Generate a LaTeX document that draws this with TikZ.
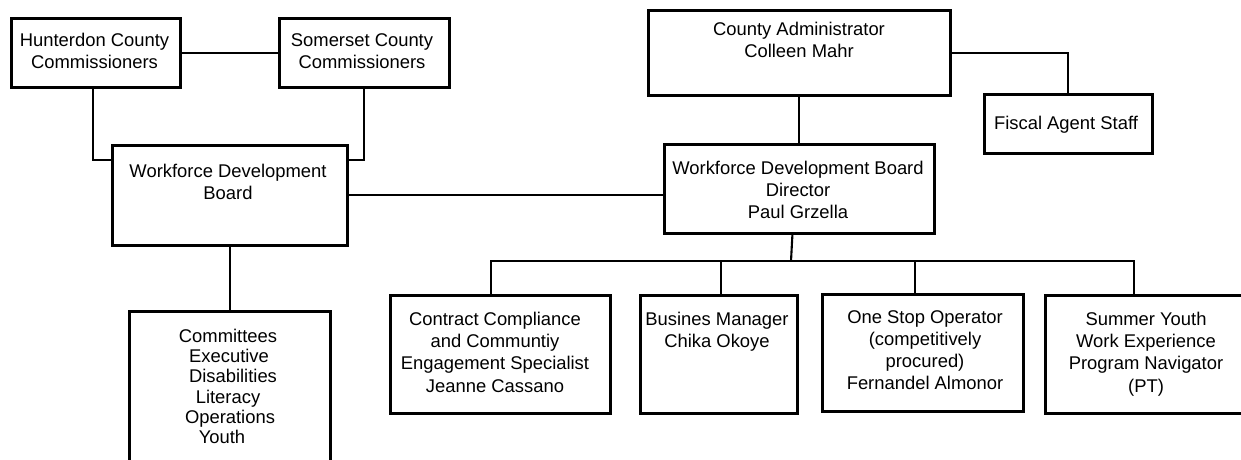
\documentclass[tikz,border=0pt]{standalone}
\usepackage{fontspec}
\setmainfont{Liberation Sans}
\begin{document}
\begin{tikzpicture}[x=1pt,y=-1pt,
  box/.style={draw, line width=2.8pt, inner sep=0pt, anchor=north west},
  txt/.style={inner sep=0pt, anchor=north, align=center,
              font=\fontsize{18.4}{22.2}\selectfont},
  link/.style={line width=2.1pt}]
\useasboundingbox (0,0) rectangle (1241,459);
\fill[white] (0,0) rectangle (1241,459);
\clip (0,0) rectangle (1241,459);

% boxes: (left,top), width x height
\node[box, minimum width=169pt, minimum height=69pt] (hc) at (10,17) {};
\node[box, minimum width=170pt, minimum height=69pt] (sc) at (278,17) {};
\node[box, minimum width=235pt, minimum height=100pt] (wdb) at (111,144) {};
\node[box, minimum width=201pt, minimum height=160pt] (com) at (128,310) {};
\node[box, minimum width=302pt, minimum height=85pt] (ca) at (647,9) {};
\node[box, minimum width=168pt, minimum height=59pt] (fis) at (983,93) {};
\node[box, minimum width=270pt, minimum height=89pt] (dir) at (663,143) {};
\node[box, minimum width=220pt, minimum height=118pt] (cc) at (389,294) {};
\node[box, minimum width=157pt, minimum height=118pt] (bm) at (639,294) {};
\node[box, minimum width=201pt, minimum height=117pt] (os) at (821,293) {};
\node[box, minimum width=206pt, minimum height=118pt] (sy) at (1044,294) {};

% box texts
\node[txt] (hct) at (94.5,33) {Hunterdon County\\Commissioners};
\node[txt] (sct) at (362,33) {Somerset County\\Commissioners};
\node[txt] (wdbt) at (228,164) {Workforce Development\\Board};
\node[txt, font=\fontsize{18.4}{20.2}\selectfont] (comt) at (228,329)
  {Committees\\\hspace*{2pt}Executive\\\hspace*{10pt}Disabilities\\Literacy\hspace*{6pt}\\\hspace*{4pt}Operations\\Youth\hspace*{12pt}};
\node[txt] (cat) at (799,22) {County Administrator\\Colleen Mahr};
\node[txt] (fist) at (1066,116) {Fiscal Agent Staff};
\node[txt] (dirt) at (798,161) {Workforce Development Board\\Director\\Paul Grzella};
\node[txt] (cct) at (495,312) {Contract Compliance\\and Communtiy\\Engagement Specialist\\Jeanne Cassano};
\node[txt] (bmt) at (717,312) {Busines Manager\\Chika Okoye};
\node[txt] (ost) at (925,310) {One Stop Operator\\(competitively\\procured)\\Fernandel Almonor};
\node[txt] (syt) at (1146,312) {Summer Youth\\Work Experience\\Program Navigator\\(PT)};

% connectors
\draw[link] (hc.east) -- (sc.west);
\draw[link] ([xshift=-2.5pt]hc.south) |- ([yshift=-16pt]wdb.north west);
\draw[link] (sc.south) |- ([yshift=-16pt]wdb.north east);
\draw[link] (wdb.east) -- (wdb.east -| dir.west);
\draw[link] (wdb.south) -- (com.north);
\draw[link] (ca.south) -- (dir.north);
\draw[link] (ca.east) -| (fis.north);

\coordinate (bus) at (791,261);
\draw[link] ([xshift=-7pt]dir.south) -- (bus);
\draw[link] ([xshift=-9pt]cc.north) |- (bus);
\draw[link] ([xshift=2.5pt]bm.north) |- (bus);
\draw[link] ([xshift=-7.5pt]os.north) |- (bus);
\draw[link] ([xshift=-14pt]sy.north) |- (bus);
\end{tikzpicture}
\end{document}
